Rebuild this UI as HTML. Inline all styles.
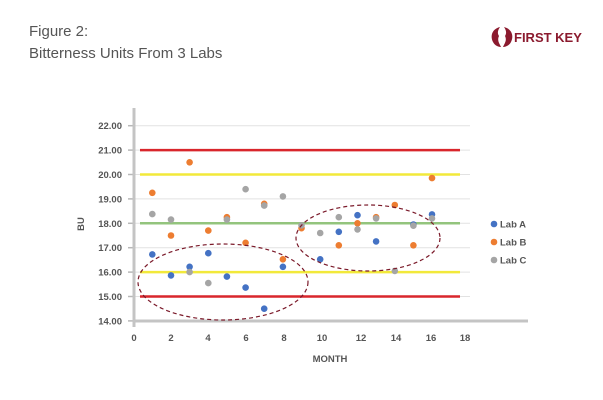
<!DOCTYPE html>
<html><head><meta charset="utf-8"><style>
html,body{margin:0;padding:0;background:#fff;}
svg{display:block;font-family:"Liberation Sans",sans-serif;}
</style></head><body>
<svg width="603" height="400" viewBox="0 0 603 400" xmlns="http://www.w3.org/2000/svg">
<text x="29" y="36" font-size="15" fill="#555">Figure 2:</text>
<text x="29" y="58" font-size="15" fill="#555">Bitterness Units From 3 Labs</text>
<g fill="#8b1a2e">
<path d="M500,27 C492,29 490,36 493,42 C495,46 499,47 501,47 C499,43 497,40 499,36 C497,33 498,30 500,27Z"/>
<path d="M504,27 C512,29 514,36 511,42 C509,46 505,47 503,47 C505,43 507,40 505,36 C507,33 506,30 504,27Z"/>
<text x="514" y="42" font-size="13" font-weight="bold" fill="#8b1a2e">FIRST KEY</text>
</g>
<!-- grid -->
<g stroke="#e2e2e2" stroke-width="1">
<line x1="134" x2="470" y1="125.7" y2="125.7"/>
<line x1="134" x2="470" y1="150.1" y2="150.1"/>
<line x1="134" x2="470" y1="174.5" y2="174.5"/>
<line x1="134" x2="470" y1="198.9" y2="198.9"/>
<line x1="134" x2="470" y1="223.3" y2="223.3"/>
<line x1="134" x2="470" y1="247.7" y2="247.7"/>
<line x1="134" x2="470" y1="272.1" y2="272.1"/>
<line x1="134" x2="470" y1="296.5" y2="296.5"/>
</g>
<g stroke="#b8b8b8" stroke-width="1.5">
<line x1="128" x2="134" y1="125.7" y2="125.7"/><line x1="128" x2="134" y1="150.1" y2="150.1"/>
<line x1="128" x2="134" y1="174.5" y2="174.5"/><line x1="128" x2="134" y1="198.9" y2="198.9"/>
<line x1="128" x2="134" y1="223.3" y2="223.3"/><line x1="128" x2="134" y1="247.7" y2="247.7"/>
<line x1="128" x2="134" y1="272.1" y2="272.1"/><line x1="128" x2="134" y1="296.5" y2="296.5"/>
<line x1="128" x2="134" y1="320.9" y2="320.9"/>
</g>
<line x1="134" x2="134" y1="108" y2="327" stroke="#c4c4c4" stroke-width="3"/>
<line x1="134" x2="528" y1="321" y2="321" stroke="#c4c4c4" stroke-width="3"/>
<g stroke-width="2.5">
<line x1="140" x2="460" y1="150.1" y2="150.1" stroke="#d9262c"/>
<line x1="140" x2="460" y1="174.5" y2="174.5" stroke="#f2e93a"/>
<line x1="140" x2="460" y1="223.3" y2="223.3" stroke="#93c47d"/>
<line x1="140" x2="460" y1="272.1" y2="272.1" stroke="#f2e93a"/>
<line x1="140" x2="460" y1="296.5" y2="296.5" stroke="#d9262c"/>
</g>
<g font-size="9.5" font-weight="bold" fill="#555" text-anchor="end">
<text x="122" y="129">22.00</text><text x="122" y="153.5">21.00</text><text x="122" y="178">20.00</text>
<text x="122" y="202.5">19.00</text><text x="122" y="227">18.00</text><text x="122" y="251">17.00</text>
<text x="122" y="275.5">16.00</text><text x="122" y="300">15.00</text><text x="122" y="324.5">14.00</text>
</g>
<g font-size="9.5" font-weight="bold" fill="#555" text-anchor="middle">
<text x="134" y="341">0</text><text x="171" y="341">2</text><text x="208" y="341">4</text>
<text x="246" y="341">6</text><text x="284" y="341">8</text><text x="322" y="341">10</text>
<text x="361" y="341">12</text><text x="396" y="341">14</text><text x="431" y="341">16</text>
<text x="465" y="341">18</text>
<text x="330" y="362">MONTH</text>
<text transform="translate(84,224) rotate(-90)">BU</text>
</g>
<g id="dots">
<g fill="#4472c4">
<circle cx="152.3" cy="254.4" r="3.3"/><circle cx="171" cy="275.4" r="3.3"/><circle cx="189.6" cy="266.8" r="3.3"/>
<circle cx="208.3" cy="253.2" r="3.3"/><circle cx="226.9" cy="276.6" r="3.3"/><circle cx="245.6" cy="287.6" r="3.3"/>
<circle cx="264.2" cy="308.7" r="3.3"/><circle cx="282.9" cy="266.8" r="3.3"/><circle cx="320.2" cy="259.3" r="3.3"/>
<circle cx="338.8" cy="231.8" r="3.3"/><circle cx="357.5" cy="215.2" r="3.3"/><circle cx="376.1" cy="241.4" r="3.3"/>
<circle cx="413.4" cy="224.5" r="3.3"/><circle cx="432" cy="214.4" r="3.3"/>
</g>
<g fill="#ed7d31">
<circle cx="152.3" cy="192.8" r="3.3"/><circle cx="171" cy="235.5" r="3.3"/><circle cx="189.6" cy="162.3" r="3.3"/>
<circle cx="208.3" cy="230.6" r="3.3"/><circle cx="226.9" cy="217.2" r="3.3"/><circle cx="245.6" cy="242.8" r="3.3"/>
<circle cx="264.2" cy="203.8" r="3.3"/><circle cx="282.9" cy="259.3" r="3.3"/><circle cx="301.5" cy="228.2" r="3.3"/>
<circle cx="338.8" cy="245.3" r="3.3"/><circle cx="357.5" cy="223.3" r="3.3"/><circle cx="376.1" cy="217.2" r="3.3"/>
<circle cx="394.8" cy="205" r="3.3"/><circle cx="413.4" cy="245.3" r="3.3"/><circle cx="432" cy="178.1" r="3.3"/>
</g>
<g fill="#a5a5a5">
<circle cx="152.3" cy="214.1" r="3.3"/><circle cx="171" cy="219.6" r="3.3"/><circle cx="189.6" cy="272.1" r="3.3"/>
<circle cx="208.3" cy="283.1" r="3.3"/><circle cx="226.9" cy="219.6" r="3.3"/><circle cx="245.6" cy="189.2" r="3.3"/>
<circle cx="264.2" cy="205.6" r="3.3"/><circle cx="282.9" cy="196.4" r="3.3"/><circle cx="301.5" cy="225.3" r="3.3"/>
<circle cx="320.2" cy="233" r="3.3"/><circle cx="338.8" cy="217.2" r="3.3"/><circle cx="357.5" cy="229.4" r="3.3"/>
<circle cx="376.1" cy="218.4" r="3.3"/><circle cx="394.8" cy="270.9" r="3.3"/><circle cx="413.4" cy="225.7" r="3.3"/>
<circle cx="432" cy="218.4" r="3.3"/>
</g>
</g>
<g fill="none" stroke="#7b1a2a" stroke-width="1.2" stroke-dasharray="4,3">
<ellipse cx="223" cy="282" rx="85" ry="38"/>
<ellipse cx="368" cy="238" rx="72" ry="33"/>
</g>
<g font-size="9.5" font-weight="bold" fill="#555">
<circle cx="494" cy="224" r="3.3" fill="#4472c4"/><text x="500" y="227.5">Lab A</text>
<circle cx="494" cy="242" r="3.3" fill="#ed7d31"/><text x="500" y="245.5">Lab B</text>
<circle cx="494" cy="260" r="3.3" fill="#a5a5a5"/><text x="500" y="263.5">Lab C</text>
</g>
</svg>
</body></html>
